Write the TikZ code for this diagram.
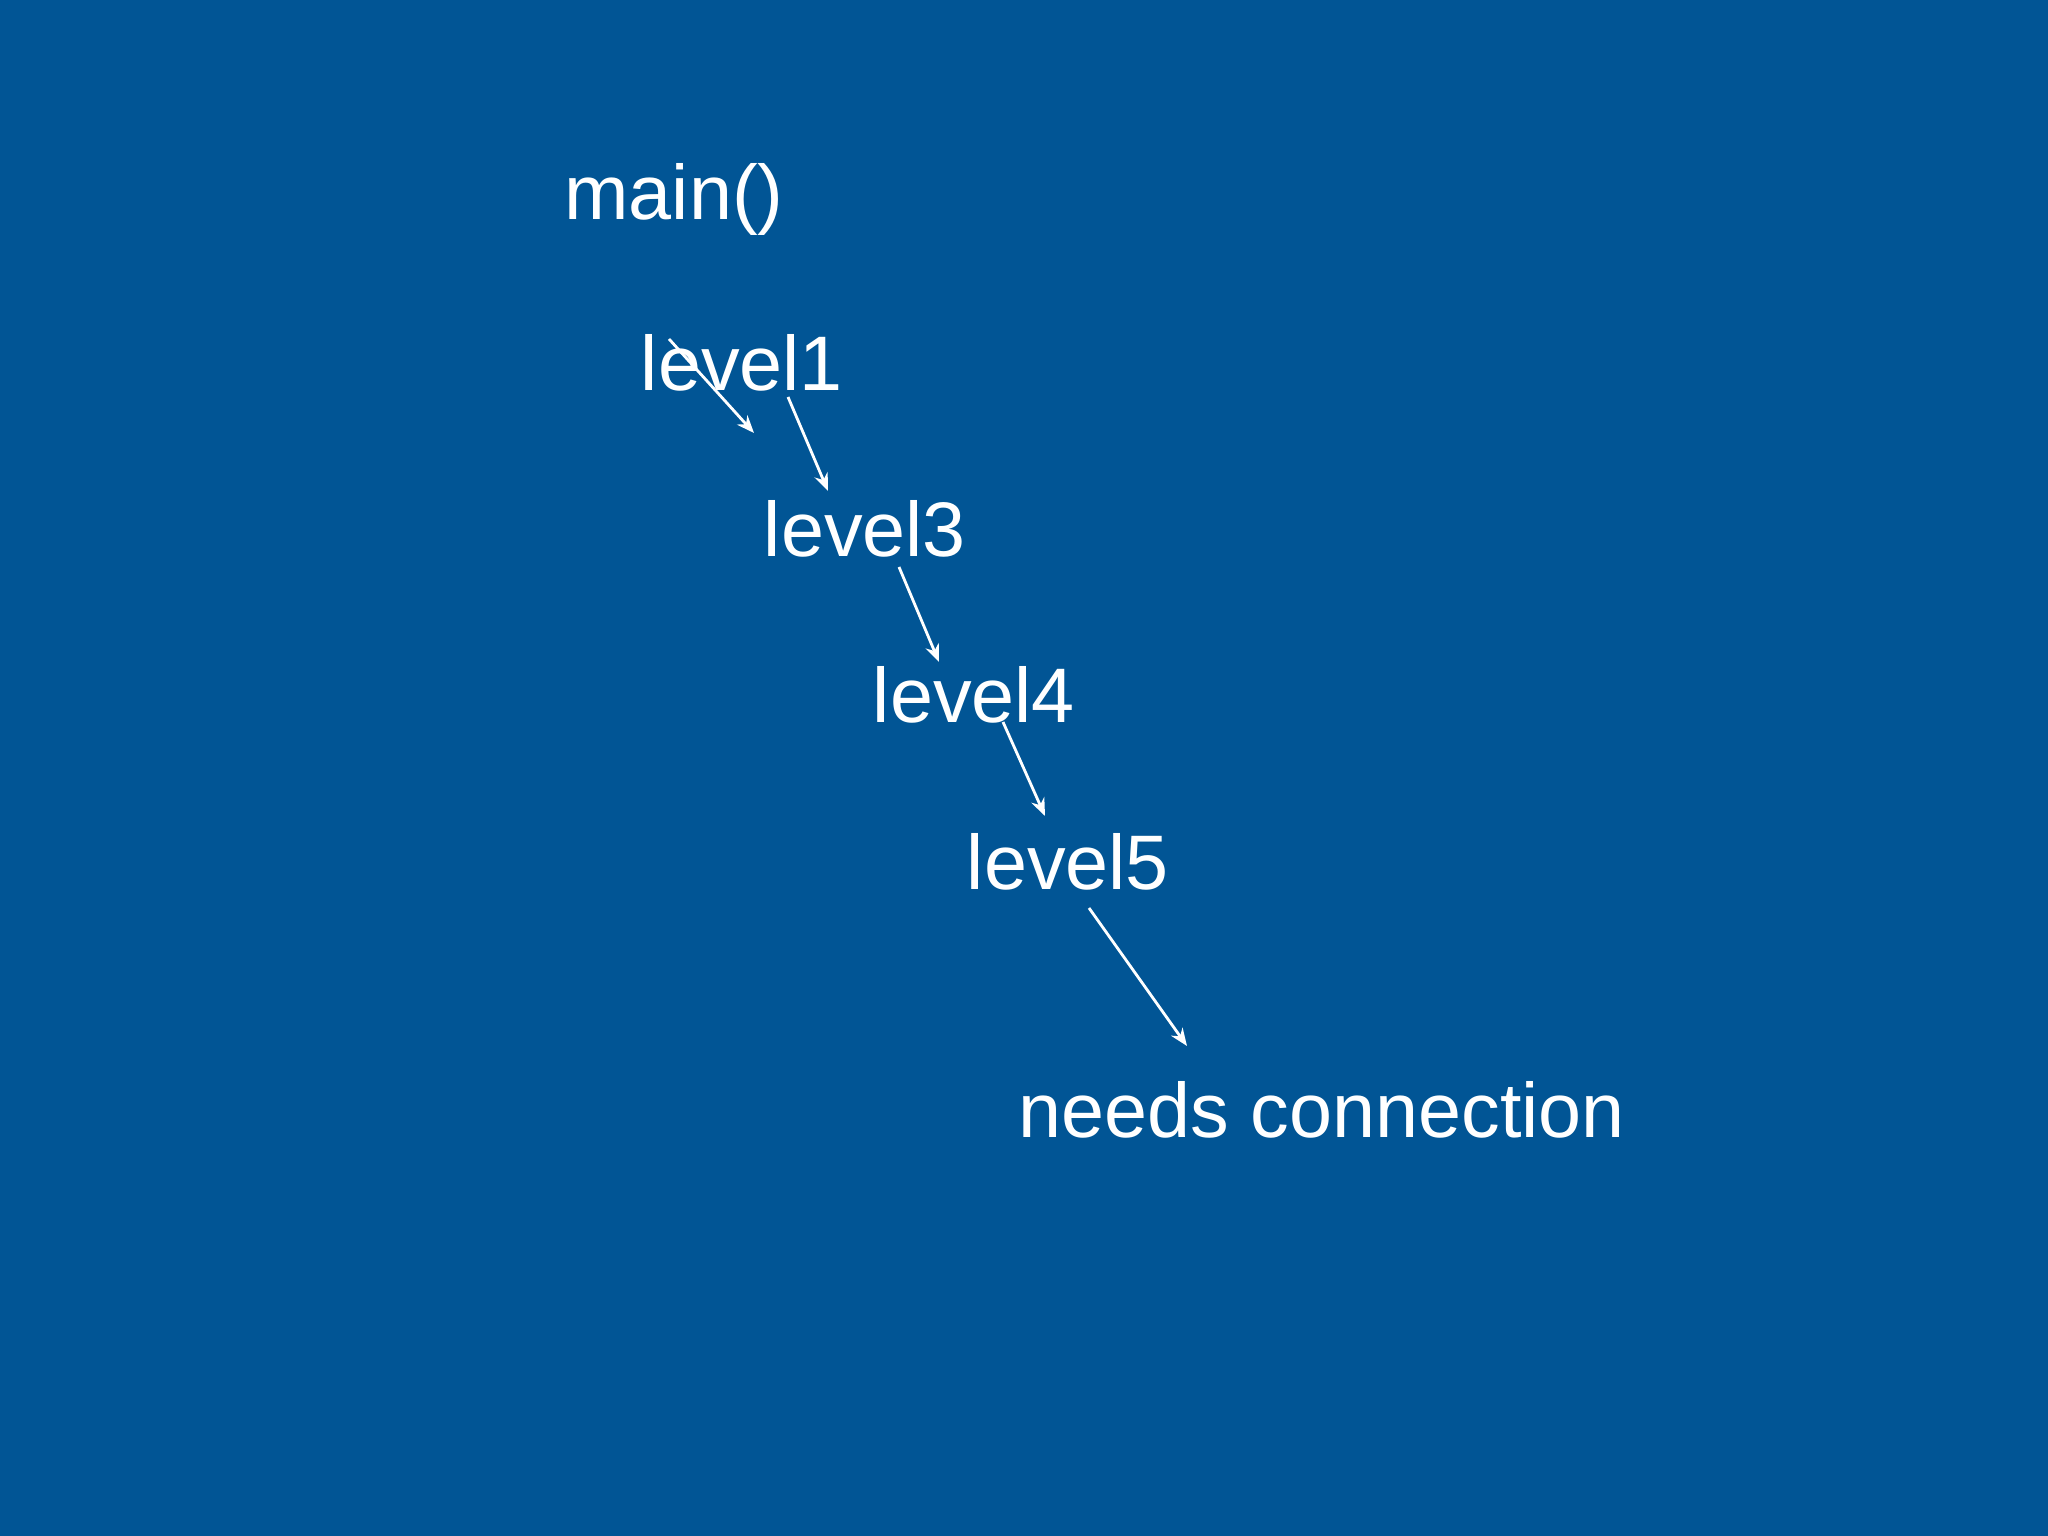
\documentclass[tikz,border=0pt]{standalone}
\usepackage{fontspec}
\setmainfont{Liberation Sans}
\usetikzlibrary{arrows.meta}
\definecolor{bg}{RGB}{1,85,149}
\begin{document}
\begin{tikzpicture}[
  lbl/.style={text=white,font=\fontsize{22}{26}\selectfont,inner sep=0pt},
  arr/.style={draw=white,line width=0.8pt,-{Stealth[length=5pt,width=4pt]}}]
\fill[bg] (0,0) rectangle (20.48,15.36);
\useasboundingbox (0,0) rectangle (20.48,15.36);
\node[lbl] (m) at (6.74,13.36) {main()};
\node[lbl] (l1) at (7.42,11.73) {level1};
\node[lbl] (l3) at (8.65,10.07) {level3};
\node[lbl] (l4) at (9.74,8.41) {level4};
\node[lbl] (l5) at (10.68,6.74) {level5};
\node[lbl] (nc) at (13.22,4.26) {needs connection};
\coordinate (a1s) at (6.69,11.97); \coordinate (a1e) at (7.54,11.03);
\coordinate (a2s) at (7.88,11.39); \coordinate (a2e) at (8.28,10.45);
\coordinate (a3s) at (8.99,9.69); \coordinate (a3e) at (9.39,8.74);
\coordinate (a4s) at (10.03,8.14); \coordinate (a4e) at (10.45,7.20);
\coordinate (a5s) at (10.89,6.28); \coordinate (a5e) at (11.87,4.90);
\draw[arr] (a1s) -- (a1e);
\draw[arr] (a2s) -- (a2e);
\draw[arr] (a3s) -- (a3e);
\draw[arr] (a4s) -- (a4e);
\draw[arr] (a5s) -- (a5e);
\end{tikzpicture}
\end{document}
